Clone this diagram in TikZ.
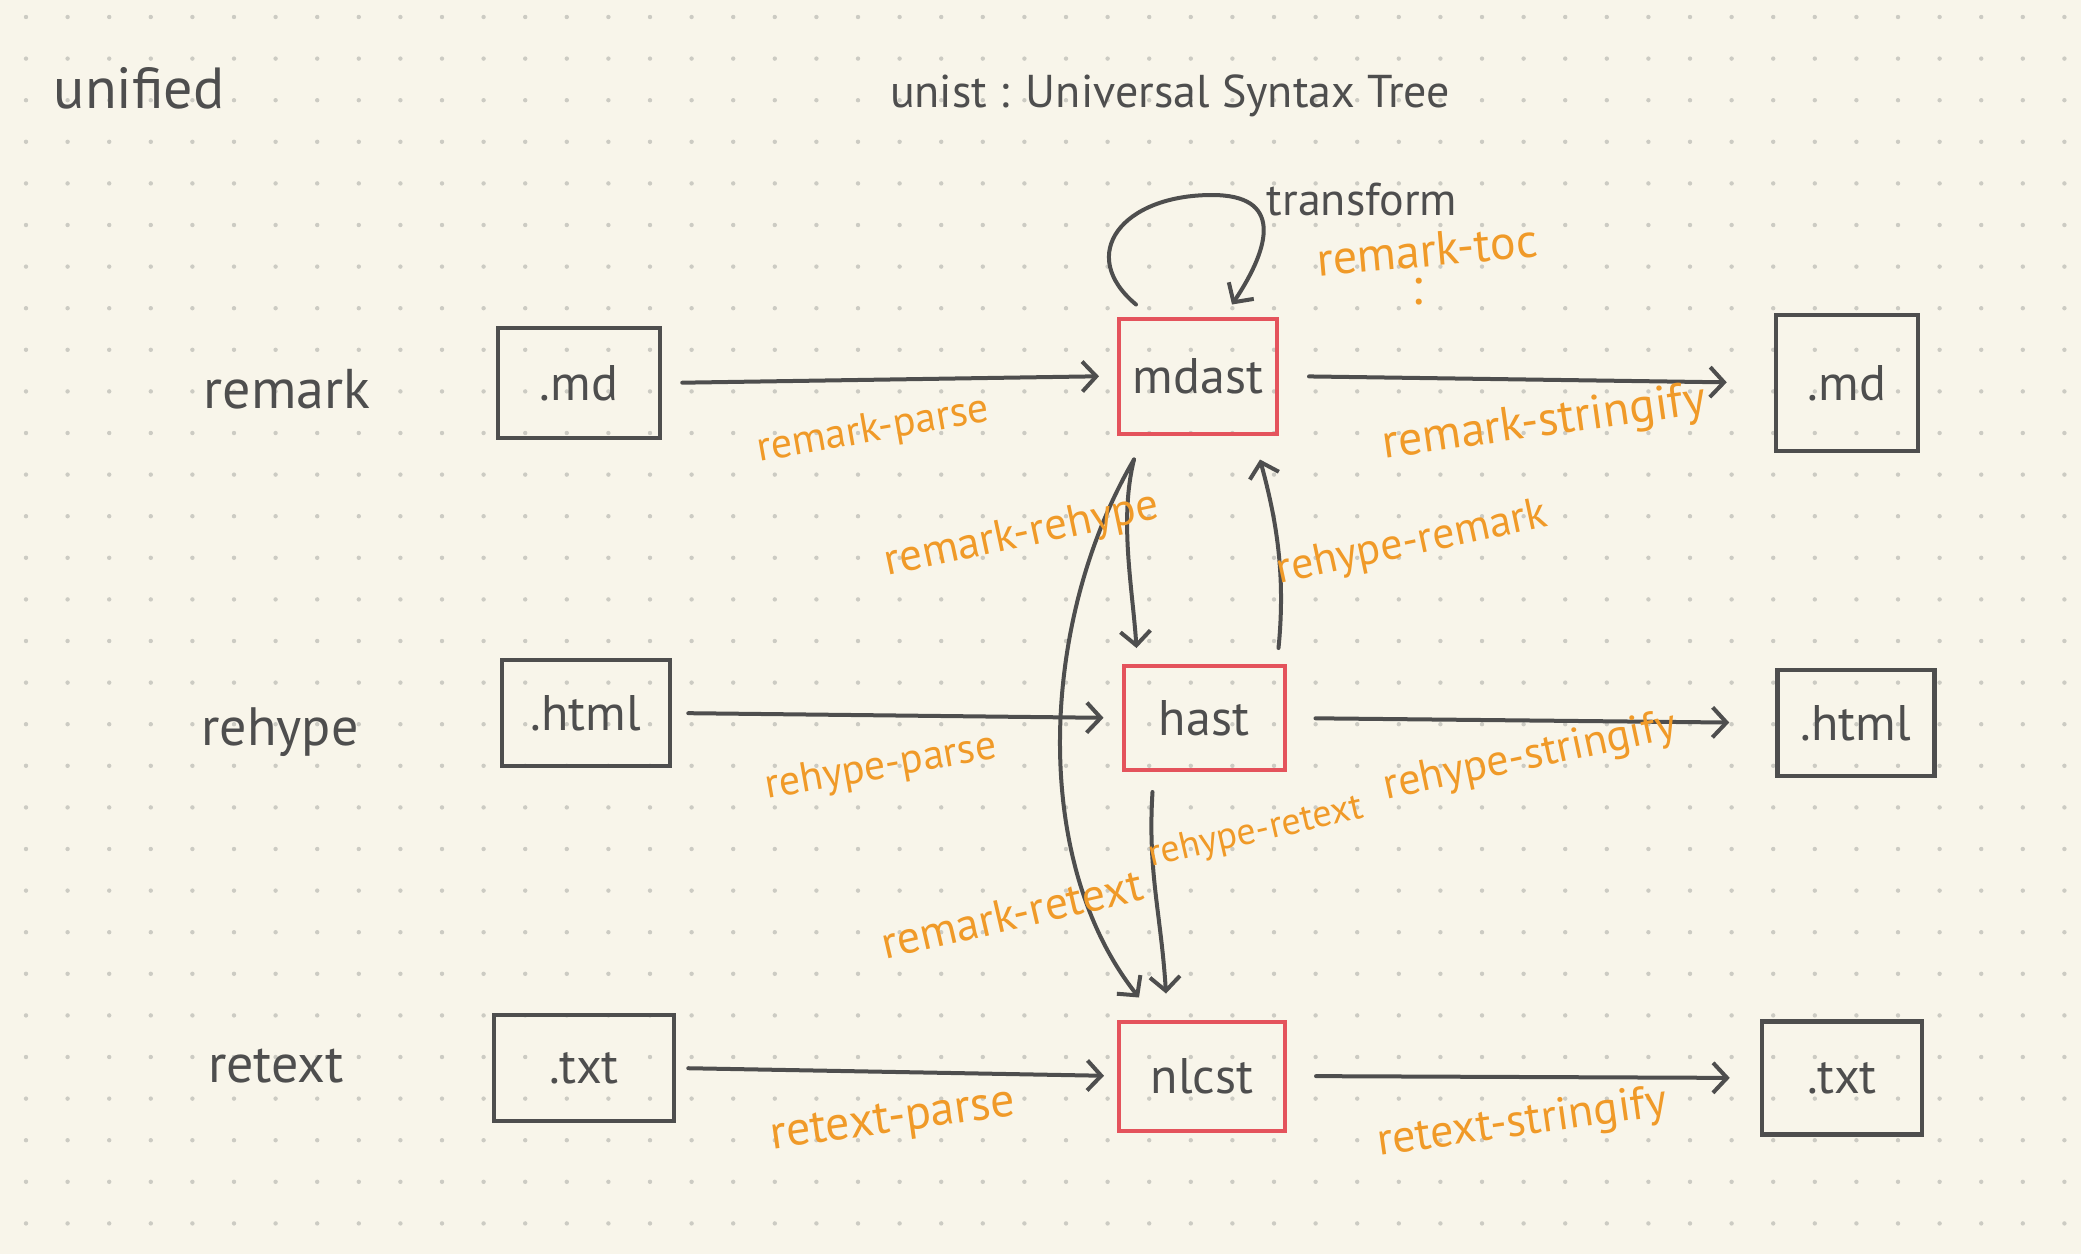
\documentclass[tikz,border=0pt]{standalone}
\usepackage{fontspec}
\setmainfont{PT Sans}
\usetikzlibrary{arrows.meta}
\definecolor{bgc}{HTML}{F8F5EA}
\definecolor{inkc}{HTML}{4E4E4E}
\definecolor{orc}{HTML}{F09A28}
\definecolor{redc}{HTML}{E4535C}
\definecolor{dotc}{HTML}{CCCBC3}
\begin{document}
\begin{tikzpicture}[x=1pt,y=-1pt,
  ink/.style={draw=inkc, line width=4pt, line cap=round, line join=round},
  arr/.style={ink, -{Straight Barb[length=14pt,width=30pt]}},
  filebox/.style={draw=inkc, line width=4.5pt, fill=none, text=inkc, inner sep=0pt, font=\fontsize{50}{56}\selectfont},
  astbox/.style={draw=redc, line width=4pt, fill=none, text=inkc, inner sep=0pt, font=\fontsize{50}{56}\selectfont},
  rowlabel/.style={text=inkc, font=\fontsize{54}{60}\selectfont},
  oplabel/.style={text=orc, inner sep=0pt, font=\fontsize{42}{46}\selectfont},
  titlelabel/.style={text=inkc, font=\fontsize{46}{52}\selectfont}]
\useasboundingbox (0,0) rectangle (2081,1254);
\fill[bgc] (0,0) rectangle (2081,1254);
\foreach \i in {0,...,49}{\foreach \j in {0,...,29}{\fill[dotc] (26+41.6*\i,17+41.6*\j) circle (2.2pt);}}

% titles
\node[rowlabel, font=\fontsize{58}{64}\selectfont] (unified) at (139,88) {unified};
\node[titlelabel] (unist) at (1170,96) {unist : Universal Syntax Tree};

% row labels
\node[rowlabel, font=\fontsize{56}{60}\selectfont] (lremark) at (287,389) {remark};
\node[rowlabel] (lrehype) at (280,732) {rehype};
\node[rowlabel] (lretext) at (276,1066) {retext};

% boxes
\node[filebox, minimum width=162pt, minimum height=110pt] (md1) at (579,383) {.md};
\node[astbox, minimum width=158pt, minimum height=115pt] (mdast) at (1198,376) {mdast};
\node[filebox, minimum width=142pt, minimum height=136pt] (md2) at (1847,383) {.md};
\node[filebox, minimum width=168pt, minimum height=106pt] (html1) at (586,713) {.html};
\node[astbox, minimum width=161pt, minimum height=104pt] (hast) at (1204,718) {hast};
\node[filebox, minimum width=157pt, minimum height=106pt] (html2) at (1856,723) {.html};
\node[filebox, minimum width=180pt, minimum height=106pt] (txt1) at (584,1068) {.txt};
\node[astbox, minimum width=166pt, minimum height=109pt] (nlcst) at (1202,1076) {nlcst};
\node[filebox, minimum width=160pt, minimum height=113pt] (txt2) at (1842,1078) {.txt};

% horizontal arrows
\draw[arr, shorten <=20pt, shorten >=18pt] (md1.east) -- (mdast.west);
\draw[arr, shorten <=30pt, shorten >=47pt] (mdast.east) -- (md2.west);
\draw[arr, shorten <=16pt, shorten >=18pt] (html1.east) -- (hast.west);
\draw[arr, shorten <=29pt, shorten >=46pt] (hast.east) -- (html2.west);
\draw[arr, shorten <=12pt, shorten >=13pt] (txt1.east) -- (nlcst.west);
\draw[arr, shorten <=29pt, shorten >=30pt] (nlcst.east) -- (txt2.west);

% transform loop
\draw[arr] ([xshift=-62pt,yshift=12pt]mdast.north) .. controls +(-60,-50) and +(-90,0) .. (1212,195) .. controls +(70,0) and +(40,-60) .. ([xshift=34pt,yshift=12pt]mdast.north);

% vertical arrows
\draw[arr] ([xshift=17pt,yshift=-24pt]mdast.south west) .. controls +(-15,60) and +(-4,-60) .. ([xshift=15pt,yshift=16pt]hast.north west);
\draw[arr] ([xshift=-8pt,yshift=16pt]hast.north east) .. controls +(8,-80) and +(14,52) .. ([xshift=-19pt,yshift=-24pt]mdast.south east);
\draw[arr] ([xshift=17pt,yshift=-24pt]mdast.south west) .. controls (1040,620) and (1030,860) .. ([xshift=22pt,yshift=22pt]nlcst.north west);
\draw[arr] ([xshift=31pt,yshift=-20pt]hast.south west) .. controls +(-5,80) and +(-5,-80) .. ([xshift=49pt,yshift=26pt]nlcst.north west);

% operation labels
\node[text=inkc, font=\fontsize{46}{50}\selectfont] (transform) at (1362,200) {transform};
\node[oplabel, rotate=5, font=\fontsize{48}{52}\selectfont] (toc) at (1427,250) {remark-toc};
\node[oplabel, font=\fontsize{52}{56}\selectfont] (vdots) at (1417,292) {:};
\node[oplabel, rotate=10] (rparse) at (873,431) {remark-parse};
\node[oplabel, rotate=8, font=\fontsize{48}{52}\selectfont] (rstring) at (1544,424) {remark-stringify};
\node[oplabel, rotate=12, font=\fontsize{45}{50}\selectfont] (rrehype) at (1022,536) {remark-rehype};
\node[oplabel, rotate=12, font=\fontsize{44}{50}\selectfont] (hremark) at (1412,544) {rehype-remark};
\node[oplabel, rotate=10, font=\fontsize{42}{46}\selectfont] (hparse) at (881,768) {rehype-parse};
\node[oplabel, rotate=12, font=\fontsize{44}{50}\selectfont] (hstring) at (1530,758) {rehype-stringify};
\node[oplabel, rotate=13, font=\fontsize{46}{50}\selectfont] (rretext) at (1012,914) {remark-retext};
\node[oplabel, rotate=13, font=\fontsize{38}{42}\selectfont] (hretext) at (1256,833) {rehype-retext};
\node[oplabel, rotate=8, font=\fontsize{48}{52}\selectfont] (tparse) at (893,1122) {retext-parse};
\node[oplabel, rotate=8, font=\fontsize{46}{50}\selectfont] (tstring) at (1522,1124) {retext-stringify};
\end{tikzpicture}
\end{document}
